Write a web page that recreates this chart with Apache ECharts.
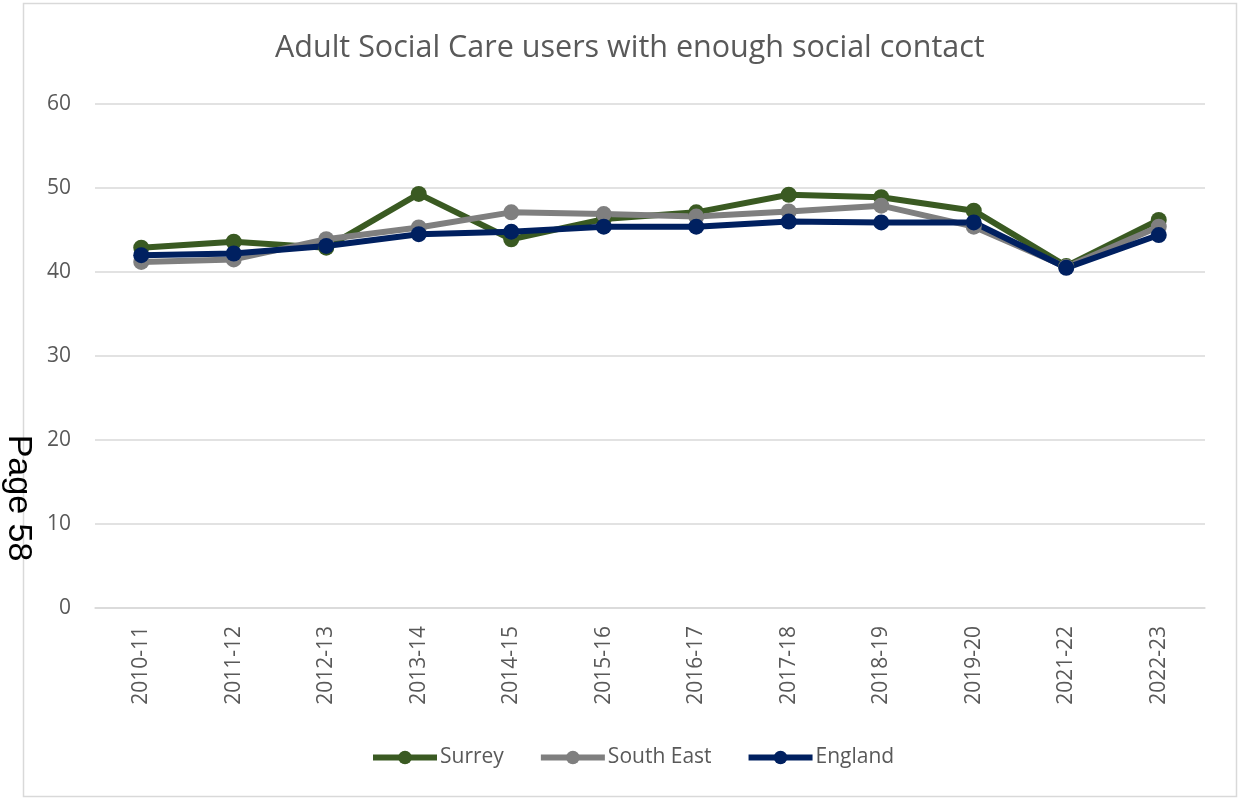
<!DOCTYPE html>
<html><head><meta charset="utf-8">
<script src="https://cdn.jsdelivr.net/npm/echarts@6/dist/echarts.min.js"></script>
<style>html,body{margin:0;padding:0;background:#fff}#c{width:1241px;height:800px}</style>
</head><body><div id="c"></div>
<script>
const categories = ['2010-11','2011-12','2012-13','2013-14','2014-15','2015-16','2016-17','2017-18','2018-19','2019-20','2021-22','2022-23'];
const surrey = [42.9, 43.6, 42.9, 49.3, 43.9, 46.3, 47.1, 49.2, 48.9, 47.3, 40.7, 46.2];
const southEast = [41.2, 41.5, 43.9, 45.3, 47.1, 46.9, 46.6, 47.2, 47.9, 45.4, 40.6, 45.4];
const england = [42.0, 42.2, 43.1, 44.5, 44.8, 45.4, 45.4, 46.0, 45.9, 45.9, 40.5, 44.4];
const yTicks = [0, 10, 20, 30, 40, 50, 60];

const chart = echarts.init(document.getElementById('c'));
const font = "'Open Sans', 'Liberation Sans', sans-serif";
function mk(name, data, color) {
  return {
    name, type: 'line', data,
    symbol: 'circle', symbolSize: 16,
    lineStyle: { width: 6, color },
    itemStyle: { color },
    emphasis: { disabled: true },
    animation: false
  };
}
chart.setOption({
  animation: false,
  title: {
    text: 'Adult Social Care users with enough social contact',
    left: 270, top: 28,
    textStyle: { fontFamily: font, fontSize: 30.5, fontWeight: 'normal', color: '#595959' }
  },
  graphic: [
    { type: 'rect', shape: { x: 23.5, y: 3.5, width: 1213, height: 793 }, style: { fill: 'none', stroke: '#d9d9d9', lineWidth: 1.5 }, z: -1 },
    { type: 'text', x: 18, y: 498, rotation: -Math.PI / 2,
      style: { text: 'Page 58', fontFamily: "'Liberation Sans', Arial, sans-serif", fontSize: 34, fill: '#000', align: 'center', verticalAlign: 'middle' },
      originX: 0, originY: 0, z: 10 }
  ],
  legend: {
    bottom: 27, left: 365, itemWidth: 64, itemHeight: 17, itemGap: 34,
    lineStyle: { width: 6 },
    textStyle: { fontFamily: font, fontSize: 21, color: '#595959', padding: [0, 0, 0, -2] },
    data: ['Surrey', 'South East', 'England']
  },
  grid: { left: 95, right: 36, top: 104, bottom: 192, containLabel: false },
  xAxis: {
    type: 'category', data: categories, boundaryGap: true,
    axisLine: { lineStyle: { color: '#d9d9d9', width: 1.5 } },
    axisTick: { show: false },
    axisLabel: { rotate: 90, color: '#595959', fontFamily: font, fontSize: 21, margin: 18 }
  },
  yAxis: {
    type: 'value', min: 0, max: 60, interval: 10,
    axisLine: { show: false }, axisTick: { show: false },
    splitLine: { lineStyle: { color: '#d9d9d9', width: 1.5 } },
    axisLabel: { color: '#595959', fontFamily: font, fontSize: 21, margin: 24,
      formatter: v => yTicks.includes(v) ? String(v) : '' }
  },
  series: [
    mk('Surrey', surrey, '#3a5a22'),
    mk('South East', southEast, '#7f7f7f'),
    mk('England', england, '#002060')
  ]
});
</script></body></html>
